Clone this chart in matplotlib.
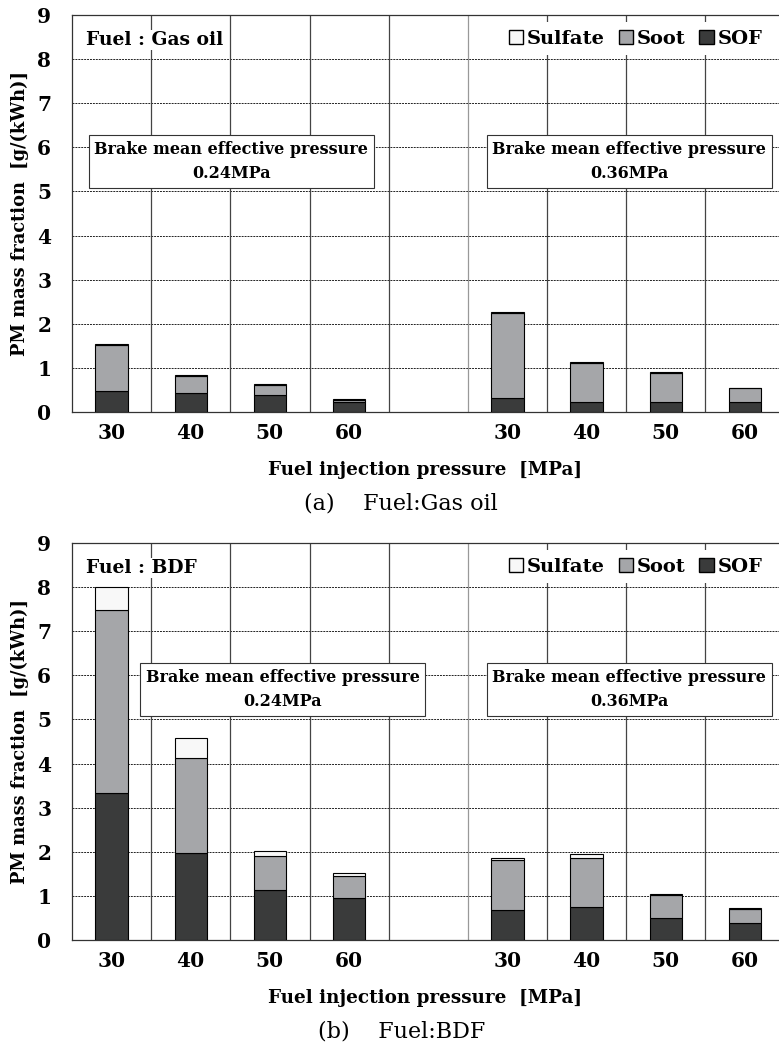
import numpy as np
import matplotlib.pyplot as plt
from matplotlib.patches import Patch

plt.rcParams['font.family'] = 'DejaVu Serif'

pressures = ['30', '40', '50', '60']
x_pos = [0, 1, 2, 3, 5, 6, 7, 8]   # slot 4 is the gap between the two BMEP groups
x_labels = pressures + pressures

# panel (a) gas oil: first four = 0.24 MPa, last four = 0.36 MPa
gas_sof = [0.48, 0.42, 0.39, 0.22, 0.32, 0.23, 0.23, 0.23]
gas_soot = [1.05, 0.40, 0.23, 0.05, 1.92, 0.88, 0.66, 0.31]
gas_sulfate = [0.02, 0.03, 0.02, 0.02, 0.02, 0.03, 0.02, 0.01]

# panel (b) BDF
bdf_sof = [3.33, 1.98, 1.14, 0.96, 0.69, 0.75, 0.51, 0.38]
bdf_soot = [4.16, 2.15, 0.77, 0.50, 1.13, 1.12, 0.52, 0.33]
bdf_sulfate = [0.51, 0.46, 0.10, 0.07, 0.05, 0.08, 0.01, 0.01]

c_sof = '#3a3b3b'
c_soot = '#a5a6a9'
c_sulfate = '#f8f8f8'

fig = plt.figure(figsize=(7.79, 10.46), dpi=100)


def panel(rect, sof, soot, sulfate, fuel, caption, box_x):
    ax = fig.add_axes(rect)
    sof = np.array(sof)
    soot = np.array(soot)
    sulfate = np.array(sulfate)
    w = 0.41
    ax.bar(x_pos, sof, w, color=c_sof, edgecolor='black', linewidth=0.8, zorder=3)
    ax.bar(x_pos, soot, w, bottom=sof, color=c_soot, edgecolor='black', linewidth=0.8, zorder=3)
    ax.bar(x_pos, sulfate, w, bottom=sof + soot, color=c_sulfate, edgecolor='black',
           linewidth=0.8, zorder=3)

    ax.set_xlim(-0.5, 8.43)
    ax.set_ylim(0, 9)
    ax.set_yticks(range(10))
    ax.set_xticks(x_pos)
    ax.set_xticklabels(x_labels)
    ax.tick_params(length=0, labelsize=14.5)
    ax.tick_params(axis='x', pad=8)
    ax.tick_params(axis='y', pad=15)
    for t in ax.get_xticklabels() + ax.get_yticklabels():
        t.set_fontweight('bold')

    for y in range(1, 9):
        ax.axhline(y, color='#222222', linestyle=(0, (2, 1)), linewidth=0.7, zorder=1)
    for xv in [0.5, 1.5, 2.5, 3.5, 4.5, 5.5, 6.5, 7.5]:
        col = '#999999' if xv == 4.5 else '#444444'
        ax.axvline(xv, color=col, linewidth=0.9, zorder=1)

    ax.spines['right'].set_visible(False)
    for s in ['left', 'top', 'bottom']:
        ax.spines[s].set_linewidth(0.9)
        ax.spines[s].set_color('#333333')

    ax.set_ylabel('PM mass fraction  [g/(kWh)]', fontsize=12.8, fontweight='bold', labelpad=6)
    ax.set_xlabel('Fuel injection pressure  [MPa]', fontsize=13.2, fontweight='bold', labelpad=13)

    ax.text(-0.32, 8.43, 'Fuel : ' + fuel, fontsize=13.5, fontweight='bold', va='center',
            ha='left', zorder=5,
            bbox=dict(facecolor='white', edgecolor='none', pad=1))

    for bx, bmep in zip(box_x, ['0.24MPa', '0.36MPa']):
        ax.text(bx, 5.68, 'Brake mean effective pressure\n' + bmep, fontsize=11.5,
                fontweight='bold', ha='center', va='center', linespacing=1.55, zorder=5,
                bbox=dict(facecolor='white', edgecolor='#333333', linewidth=0.8,
                          boxstyle='square,pad=0.35'))

    handles = [Patch(facecolor=c_sulfate, edgecolor='black', label='Sulfate'),
               Patch(facecolor=c_soot, edgecolor='black', label='Soot'),
               Patch(facecolor=c_sof, edgecolor='black', label='SOF')]
    leg = ax.legend(handles=handles, ncol=3, loc='upper right', bbox_to_anchor=(0.995, 0.995),
                    handlelength=0.75, handleheight=0.75, handletextpad=0.2,
                    columnspacing=0.7, borderaxespad=0.25, fontsize=14,
                    frameon=True, fancybox=False, framealpha=1, edgecolor='none')
    for t in leg.get_texts():
        t.set_fontweight('bold')
    leg.set_zorder(6)

    fig.text(0.515, rect[1] - 0.087, caption, fontsize=16, ha='center', va='center')
    return ax


panel([0.0924, 0.6061, 0.9076, 0.3796], gas_sof, gas_soot, gas_sulfate, 'Gas oil',
      '(a)    Fuel:Gas oil', [1.51, 6.54])
panel([0.0924, 0.1013, 0.9076, 0.3796], bdf_sof, bdf_soot, bdf_sulfate, 'BDF',
      '(b)    Fuel:BDF', [2.16, 6.54])

fig.savefig('out.png', dpi=100)
